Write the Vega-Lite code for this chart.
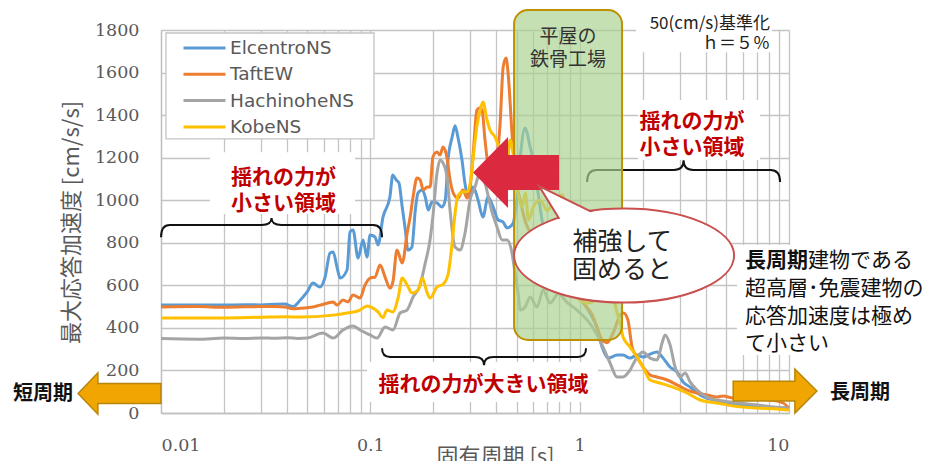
{
  "$schema": "https://vega.github.io/schema/vega-lite/v6.json",
  "width": 628,
  "height": 383,
  "autosize": {"type": "none"},
  "padding": {"left": 161, "top": 30, "right": 141, "bottom": 48},
  "background": "white",
  "config": {"view": {"stroke": null}, "font": "Noto Sans CJK JP"},
  "datasets": {
    "spectra": [
      {"series": "ElcentroNS", "T": 0.01, "a": 507}, {"series": "ElcentroNS", "T": 0.015, "a": 508}, {"series": "ElcentroNS", "T": 0.02, "a": 507}, {"series": "ElcentroNS", "T": 0.025, "a": 509}, {"series": "ElcentroNS", "T": 0.03, "a": 508}, {"series": "ElcentroNS", "T": 0.035, "a": 511}, {"series": "ElcentroNS", "T": 0.039, "a": 512}, {"series": "ElcentroNS", "T": 0.0427, "a": 500}, {"series": "ElcentroNS", "T": 0.0462, "a": 530}, {"series": "ElcentroNS", "T": 0.0499, "a": 569}, {"series": "ElcentroNS", "T": 0.0532, "a": 611}, {"series": "ElcentroNS", "T": 0.0575, "a": 592}, {"series": "ElcentroNS", "T": 0.0608, "a": 639}, {"series": "ElcentroNS", "T": 0.0642, "a": 752}, {"series": "ElcentroNS", "T": 0.0664, "a": 757}, {"series": "ElcentroNS", "T": 0.0693, "a": 686}, {"series": "ElcentroNS", "T": 0.0717, "a": 634}, {"series": "ElcentroNS", "T": 0.0774, "a": 672}, {"series": "ElcentroNS", "T": 0.08, "a": 851}, {"series": "ElcentroNS", "T": 0.0827, "a": 860}, {"series": "ElcentroNS", "T": 0.0874, "a": 728}, {"series": "ElcentroNS", "T": 0.0923, "a": 813}, {"series": "ElcentroNS", "T": 0.0964, "a": 733}, {"series": "ElcentroNS", "T": 0.0997, "a": 836}, {"series": "ElcentroNS", "T": 0.1053, "a": 827}, {"series": "ElcentroNS", "T": 0.1088, "a": 790}, {"series": "ElcentroNS", "T": 0.115, "a": 922}, {"series": "ElcentroNS", "T": 0.124, "a": 1015}, {"series": "ElcentroNS", "T": 0.128, "a": 1118}, {"series": "ElcentroNS", "T": 0.133, "a": 1095}, {"series": "ElcentroNS", "T": 0.137, "a": 1081}, {"series": "ElcentroNS", "T": 0.142, "a": 968}, {"series": "ElcentroNS", "T": 0.147, "a": 860}, {"series": "ElcentroNS", "T": 0.151, "a": 766}, {"series": "ElcentroNS", "T": 0.158, "a": 780}, {"series": "ElcentroNS", "T": 0.164, "a": 954}, {"series": "ElcentroNS", "T": 0.169, "a": 1034}, {"series": "ElcentroNS", "T": 0.177, "a": 1048}, {"series": "ElcentroNS", "T": 0.183, "a": 1015}, {"series": "ElcentroNS", "T": 0.189, "a": 954}, {"series": "ElcentroNS", "T": 0.197, "a": 992}, {"series": "ElcentroNS", "T": 0.208, "a": 987}, {"series": "ElcentroNS", "T": 0.22, "a": 968}, {"series": "ElcentroNS", "T": 0.228, "a": 1001}, {"series": "ElcentroNS", "T": 0.235, "a": 1189}, {"series": "ElcentroNS", "T": 0.246, "a": 1297}, {"series": "ElcentroNS", "T": 0.254, "a": 1350}, {"series": "ElcentroNS", "T": 0.262, "a": 1297}, {"series": "ElcentroNS", "T": 0.274, "a": 1189}, {"series": "ElcentroNS", "T": 0.283, "a": 1081}, {"series": "ElcentroNS", "T": 0.293, "a": 1015}, {"series": "ElcentroNS", "T": 0.31, "a": 1062}, {"series": "ElcentroNS", "T": 0.327, "a": 1001}, {"series": "ElcentroNS", "T": 0.345, "a": 921}, {"series": "ElcentroNS", "T": 0.365, "a": 1015}, {"series": "ElcentroNS", "T": 0.386, "a": 968}, {"series": "ElcentroNS", "T": 0.408, "a": 907}, {"series": "ElcentroNS", "T": 0.43, "a": 898}, {"series": "ElcentroNS", "T": 0.45, "a": 870}, {"series": "ElcentroNS", "T": 0.48, "a": 890}, {"series": "ElcentroNS", "T": 0.5, "a": 1000}, {"series": "ElcentroNS", "T": 0.52, "a": 1200}, {"series": "ElcentroNS", "T": 0.548, "a": 1339}, {"series": "ElcentroNS", "T": 0.58, "a": 1250}, {"series": "ElcentroNS", "T": 0.6, "a": 1189}, {"series": "ElcentroNS", "T": 0.633, "a": 1034}, {"series": "ElcentroNS", "T": 0.661, "a": 907}, {"series": "ElcentroNS", "T": 0.699, "a": 799}, {"series": "ElcentroNS", "T": 0.74, "a": 750}, {"series": "ElcentroNS", "T": 0.79, "a": 720}, {"series": "ElcentroNS", "T": 0.85, "a": 650}, {"series": "ElcentroNS", "T": 0.9, "a": 620}, {"series": "ElcentroNS", "T": 0.97, "a": 570}, {"series": "ElcentroNS", "T": 1.04, "a": 520}, {"series": "ElcentroNS", "T": 1.12, "a": 470}, {"series": "ElcentroNS", "T": 1.21, "a": 400}, {"series": "ElcentroNS", "T": 1.28, "a": 310}, {"series": "ElcentroNS", "T": 1.37, "a": 258}, {"series": "ElcentroNS", "T": 1.51, "a": 272}, {"series": "ElcentroNS", "T": 1.61, "a": 272}, {"series": "ElcentroNS", "T": 1.74, "a": 258}, {"series": "ElcentroNS", "T": 1.88, "a": 272}, {"series": "ElcentroNS", "T": 2.01, "a": 263}, {"series": "ElcentroNS", "T": 2.17, "a": 277}, {"series": "ElcentroNS", "T": 2.34, "a": 287}, {"series": "ElcentroNS", "T": 2.48, "a": 263}, {"series": "ElcentroNS", "T": 2.7, "a": 216}, {"series": "ElcentroNS", "T": 2.92, "a": 193}, {"series": "ElcentroNS", "T": 3.12, "a": 146}, {"series": "ElcentroNS", "T": 3.37, "a": 122}, {"series": "ElcentroNS", "T": 3.76, "a": 85}, {"series": "ElcentroNS", "T": 4.34, "a": 61}, {"series": "ElcentroNS", "T": 5.23, "a": 47}, {"series": "ElcentroNS", "T": 6.31, "a": 33}, {"series": "ElcentroNS", "T": 7.52, "a": 28}, {"series": "ElcentroNS", "T": 9.37, "a": 23}, {"series": "ElcentroNS", "T": 10, "a": 22},

      {"series": "TaftEW", "T": 0.01, "a": 498}, {"series": "TaftEW", "T": 0.015, "a": 500}, {"series": "TaftEW", "T": 0.02, "a": 497}, {"series": "TaftEW", "T": 0.025, "a": 499}, {"series": "TaftEW", "T": 0.03, "a": 500}, {"series": "TaftEW", "T": 0.035, "a": 500}, {"series": "TaftEW", "T": 0.039, "a": 498}, {"series": "TaftEW", "T": 0.0427, "a": 490}, {"series": "TaftEW", "T": 0.0499, "a": 495}, {"series": "TaftEW", "T": 0.0532, "a": 498}, {"series": "TaftEW", "T": 0.0575, "a": 507}, {"series": "TaftEW", "T": 0.0621, "a": 516}, {"series": "TaftEW", "T": 0.0664, "a": 522}, {"series": "TaftEW", "T": 0.0693, "a": 507}, {"series": "TaftEW", "T": 0.074, "a": 531}, {"series": "TaftEW", "T": 0.0782, "a": 522}, {"series": "TaftEW", "T": 0.0827, "a": 555}, {"series": "TaftEW", "T": 0.0893, "a": 540}, {"series": "TaftEW", "T": 0.0943, "a": 601}, {"series": "TaftEW", "T": 0.0997, "a": 634}, {"series": "TaftEW", "T": 0.1053, "a": 639}, {"series": "TaftEW", "T": 0.1113, "a": 695}, {"series": "TaftEW", "T": 0.1176, "a": 639}, {"series": "TaftEW", "T": 0.1242, "a": 587}, {"series": "TaftEW", "T": 0.1284, "a": 620}, {"series": "TaftEW", "T": 0.134, "a": 766}, {"series": "TaftEW", "T": 0.142, "a": 705}, {"series": "TaftEW", "T": 0.15, "a": 846}, {"series": "TaftEW", "T": 0.155, "a": 922}, {"series": "TaftEW", "T": 0.16, "a": 1015}, {"series": "TaftEW", "T": 0.167, "a": 1104}, {"series": "TaftEW", "T": 0.173, "a": 1095}, {"series": "TaftEW", "T": 0.179, "a": 1048}, {"series": "TaftEW", "T": 0.187, "a": 1062}, {"series": "TaftEW", "T": 0.193, "a": 1062}, {"series": "TaftEW", "T": 0.199, "a": 1203}, {"series": "TaftEW", "T": 0.208, "a": 1227}, {"series": "TaftEW", "T": 0.215, "a": 1212}, {"series": "TaftEW", "T": 0.2225, "a": 1250}, {"series": "TaftEW", "T": 0.2325, "a": 1198}, {"series": "TaftEW", "T": 0.24, "a": 1100}, {"series": "TaftEW", "T": 0.25, "a": 1030}, {"series": "TaftEW", "T": 0.262, "a": 1010}, {"series": "TaftEW", "T": 0.277, "a": 1048}, {"series": "TaftEW", "T": 0.29, "a": 1010}, {"series": "TaftEW", "T": 0.3, "a": 1062}, {"series": "TaftEW", "T": 0.31, "a": 1220}, {"series": "TaftEW", "T": 0.323, "a": 1424}, {"series": "TaftEW", "T": 0.334, "a": 1435}, {"series": "TaftEW", "T": 0.342, "a": 1424}, {"series": "TaftEW", "T": 0.353, "a": 1283}, {"series": "TaftEW", "T": 0.373, "a": 1128}, {"series": "TaftEW", "T": 0.394, "a": 1156}, {"series": "TaftEW", "T": 0.417, "a": 1363}, {"series": "TaftEW", "T": 0.431, "a": 1626}, {"series": "TaftEW", "T": 0.445, "a": 1668}, {"series": "TaftEW", "T": 0.455, "a": 1598}, {"series": "TaftEW", "T": 0.475, "a": 1316}, {"series": "TaftEW", "T": 0.491, "a": 1128}, {"series": "TaftEW", "T": 0.52, "a": 1000}, {"series": "TaftEW", "T": 0.55, "a": 900}, {"series": "TaftEW", "T": 0.6, "a": 820}, {"series": "TaftEW", "T": 0.65, "a": 720}, {"series": "TaftEW", "T": 0.7, "a": 760}, {"series": "TaftEW", "T": 0.78, "a": 650}, {"series": "TaftEW", "T": 0.85, "a": 620}, {"series": "TaftEW", "T": 0.93, "a": 592}, {"series": "TaftEW", "T": 1.04, "a": 517}, {"series": "TaftEW", "T": 1.15, "a": 460}, {"series": "TaftEW", "T": 1.21, "a": 404}, {"series": "TaftEW", "T": 1.28, "a": 343}, {"series": "TaftEW", "T": 1.35, "a": 330}, {"series": "TaftEW", "T": 1.45, "a": 380}, {"series": "TaftEW", "T": 1.56, "a": 460}, {"series": "TaftEW", "T": 1.62, "a": 470}, {"series": "TaftEW", "T": 1.7, "a": 437}, {"series": "TaftEW", "T": 1.78, "a": 310}, {"series": "TaftEW", "T": 1.88, "a": 263}, {"series": "TaftEW", "T": 2.01, "a": 216}, {"series": "TaftEW", "T": 2.17, "a": 179}, {"series": "TaftEW", "T": 2.34, "a": 169}, {"series": "TaftEW", "T": 2.62, "a": 155}, {"series": "TaftEW", "T": 2.92, "a": 132}, {"series": "TaftEW", "T": 3.26, "a": 108}, {"series": "TaftEW", "T": 3.64, "a": 94}, {"series": "TaftEW", "T": 4.06, "a": 85}, {"series": "TaftEW", "T": 4.53, "a": 75}, {"series": "TaftEW", "T": 4.84, "a": 80}, {"series": "TaftEW", "T": 5.41, "a": 70}, {"series": "TaftEW", "T": 6.04, "a": 75}, {"series": "TaftEW", "T": 7.04, "a": 66}, {"series": "TaftEW", "T": 8.12, "a": 61}, {"series": "TaftEW", "T": 9.37, "a": 47}, {"series": "TaftEW", "T": 10, "a": 23},

      {"series": "HachinoheNS", "T": 0.01, "a": 350}, {"series": "HachinoheNS", "T": 0.015, "a": 347}, {"series": "HachinoheNS", "T": 0.02, "a": 352}, {"series": "HachinoheNS", "T": 0.025, "a": 350}, {"series": "HachinoheNS", "T": 0.03, "a": 353}, {"series": "HachinoheNS", "T": 0.035, "a": 351}, {"series": "HachinoheNS", "T": 0.04, "a": 354}, {"series": "HachinoheNS", "T": 0.045, "a": 350}, {"series": "HachinoheNS", "T": 0.0499, "a": 352}, {"series": "HachinoheNS", "T": 0.0594, "a": 376}, {"series": "HachinoheNS", "T": 0.0664, "a": 352}, {"series": "HachinoheNS", "T": 0.074, "a": 390}, {"series": "HachinoheNS", "T": 0.0827, "a": 409}, {"series": "HachinoheNS", "T": 0.0893, "a": 390}, {"series": "HachinoheNS", "T": 0.0997, "a": 367}, {"series": "HachinoheNS", "T": 0.1076, "a": 352}, {"series": "HachinoheNS", "T": 0.1176, "a": 404}, {"series": "HachinoheNS", "T": 0.1284, "a": 390}, {"series": "HachinoheNS", "T": 0.1387, "a": 470}, {"series": "HachinoheNS", "T": 0.1497, "a": 484}, {"series": "HachinoheNS", "T": 0.16, "a": 545}, {"series": "HachinoheNS", "T": 0.1727, "a": 600}, {"series": "HachinoheNS", "T": 0.1825, "a": 700}, {"series": "HachinoheNS", "T": 0.1928, "a": 813}, {"series": "HachinoheNS", "T": 0.1993, "a": 930}, {"series": "HachinoheNS", "T": 0.2083, "a": 1128}, {"series": "HachinoheNS", "T": 0.2153, "a": 1189}, {"series": "HachinoheNS", "T": 0.2225, "a": 1175}, {"series": "HachinoheNS", "T": 0.2325, "a": 1109}, {"series": "HachinoheNS", "T": 0.2403, "a": 954}, {"series": "HachinoheNS", "T": 0.2539, "a": 780}, {"series": "HachinoheNS", "T": 0.2683, "a": 766}, {"series": "HachinoheNS", "T": 0.2834, "a": 846}, {"series": "HachinoheNS", "T": 0.2995, "a": 1001}, {"series": "HachinoheNS", "T": 0.3164, "a": 1062}, {"series": "HachinoheNS", "T": 0.334, "a": 1128}, {"series": "HachinoheNS", "T": 0.353, "a": 1080}, {"series": "HachinoheNS", "T": 0.38, "a": 950}, {"series": "HachinoheNS", "T": 0.403, "a": 874}, {"series": "HachinoheNS", "T": 0.426, "a": 813}, {"series": "HachinoheNS", "T": 0.45, "a": 813}, {"series": "HachinoheNS", "T": 0.475, "a": 752}, {"series": "HachinoheNS", "T": 0.491, "a": 658}, {"series": "HachinoheNS", "T": 0.508, "a": 564}, {"series": "HachinoheNS", "T": 0.52, "a": 484}, {"series": "HachinoheNS", "T": 0.55, "a": 500}, {"series": "HachinoheNS", "T": 0.58, "a": 545}, {"series": "HachinoheNS", "T": 0.626, "a": 498}, {"series": "HachinoheNS", "T": 0.669, "a": 578}, {"series": "HachinoheNS", "T": 0.722, "a": 517}, {"series": "HachinoheNS", "T": 0.79, "a": 560}, {"series": "HachinoheNS", "T": 0.87, "a": 520}, {"series": "HachinoheNS", "T": 0.97, "a": 484}, {"series": "HachinoheNS", "T": 1.121, "a": 420}, {"series": "HachinoheNS", "T": 1.211, "a": 367}, {"series": "HachinoheNS", "T": 1.294, "a": 310}, {"series": "HachinoheNS", "T": 1.397, "a": 235}, {"series": "HachinoheNS", "T": 1.509, "a": 169}, {"series": "HachinoheNS", "T": 1.612, "a": 169}, {"series": "HachinoheNS", "T": 1.741, "a": 202}, {"series": "HachinoheNS", "T": 1.881, "a": 263}, {"series": "HachinoheNS", "T": 2.009, "a": 287}, {"series": "HachinoheNS", "T": 2.17, "a": 258}, {"series": "HachinoheNS", "T": 2.344, "a": 249}, {"series": "HachinoheNS", "T": 2.476, "a": 329}, {"series": "HachinoheNS", "T": 2.559, "a": 367}, {"series": "HachinoheNS", "T": 2.703, "a": 320}, {"series": "HachinoheNS", "T": 2.856, "a": 216}, {"series": "HachinoheNS", "T": 3.018, "a": 169}, {"series": "HachinoheNS", "T": 3.189, "a": 188}, {"series": "HachinoheNS", "T": 3.369, "a": 146}, {"series": "HachinoheNS", "T": 3.639, "a": 108}, {"series": "HachinoheNS", "T": 4.062, "a": 75}, {"series": "HachinoheNS", "T": 4.844, "a": 56}, {"series": "HachinoheNS", "T": 5.84, "a": 47}, {"series": "HachinoheNS", "T": 7.04, "a": 38}, {"series": "HachinoheNS", "T": 8.39, "a": 28}, {"series": "HachinoheNS", "T": 10, "a": 23},

      {"series": "KobeNS", "T": 0.01, "a": 446}, {"series": "KobeNS", "T": 0.015, "a": 447}, {"series": "KobeNS", "T": 0.02, "a": 447}, {"series": "KobeNS", "T": 0.03, "a": 450}, {"series": "KobeNS", "T": 0.04, "a": 452}, {"series": "KobeNS", "T": 0.0462, "a": 451}, {"series": "KobeNS", "T": 0.0664, "a": 460}, {"series": "KobeNS", "T": 0.0774, "a": 470}, {"series": "KobeNS", "T": 0.0893, "a": 484}, {"series": "KobeNS", "T": 0.0964, "a": 503}, {"series": "KobeNS", "T": 0.103, "a": 493}, {"series": "KobeNS", "T": 0.1088, "a": 475}, {"series": "KobeNS", "T": 0.115, "a": 448}, {"series": "KobeNS", "T": 0.12, "a": 484}, {"series": "KobeNS", "T": 0.128, "a": 475}, {"series": "KobeNS", "T": 0.136, "a": 545}, {"series": "KobeNS", "T": 0.142, "a": 634}, {"series": "KobeNS", "T": 0.15, "a": 601}, {"series": "KobeNS", "T": 0.158, "a": 564}, {"series": "KobeNS", "T": 0.169, "a": 578}, {"series": "KobeNS", "T": 0.177, "a": 634}, {"series": "KobeNS", "T": 0.187, "a": 564}, {"series": "KobeNS", "T": 0.193, "a": 540}, {"series": "KobeNS", "T": 0.208, "a": 592}, {"series": "KobeNS", "T": 0.2225, "a": 605}, {"series": "KobeNS", "T": 0.235, "a": 650}, {"series": "KobeNS", "T": 0.246, "a": 800}, {"series": "KobeNS", "T": 0.254, "a": 940}, {"series": "KobeNS", "T": 0.262, "a": 1020}, {"series": "KobeNS", "T": 0.277, "a": 1040}, {"series": "KobeNS", "T": 0.29, "a": 1040}, {"series": "KobeNS", "T": 0.3, "a": 1080}, {"series": "KobeNS", "T": 0.31, "a": 1200}, {"series": "KobeNS", "T": 0.323, "a": 1350}, {"series": "KobeNS", "T": 0.336, "a": 1430}, {"series": "KobeNS", "T": 0.345, "a": 1462}, {"series": "KobeNS", "T": 0.361, "a": 1377}, {"series": "KobeNS", "T": 0.373, "a": 1330}, {"series": "KobeNS", "T": 0.394, "a": 1297}, {"series": "KobeNS", "T": 0.417, "a": 1222}, {"series": "KobeNS", "T": 0.431, "a": 1128}, {"series": "KobeNS", "T": 0.45, "a": 1156}, {"series": "KobeNS", "T": 0.465, "a": 1283}, {"series": "KobeNS", "T": 0.481, "a": 1222}, {"series": "KobeNS", "T": 0.502, "a": 1062}, {"series": "KobeNS", "T": 0.531, "a": 968}, {"series": "KobeNS", "T": 0.55, "a": 1034}, {"series": "KobeNS", "T": 0.57, "a": 907}, {"series": "KobeNS", "T": 0.6, "a": 968}, {"series": "KobeNS", "T": 0.65, "a": 1000}, {"series": "KobeNS", "T": 0.7, "a": 950}, {"series": "KobeNS", "T": 0.75, "a": 1000}, {"series": "KobeNS", "T": 0.83, "a": 1024}, {"series": "KobeNS", "T": 0.87, "a": 686}, {"series": "KobeNS", "T": 0.97, "a": 545}, {"series": "KobeNS", "T": 1.08, "a": 517}, {"series": "KobeNS", "T": 1.25, "a": 545}, {"series": "KobeNS", "T": 1.4, "a": 600}, {"series": "KobeNS", "T": 1.5, "a": 480}, {"series": "KobeNS", "T": 1.56, "a": 420}, {"series": "KobeNS", "T": 1.612, "a": 357}, {"series": "KobeNS", "T": 1.741, "a": 310}, {"series": "KobeNS", "T": 1.881, "a": 263}, {"series": "KobeNS", "T": 2.009, "a": 216}, {"series": "KobeNS", "T": 2.17, "a": 155}, {"series": "KobeNS", "T": 2.42, "a": 141}, {"series": "KobeNS", "T": 2.79, "a": 122}, {"series": "KobeNS", "T": 3.26, "a": 94}, {"series": "KobeNS", "T": 3.76, "a": 61}, {"series": "KobeNS", "T": 4.53, "a": 47}, {"series": "KobeNS", "T": 5.41, "a": 33}, {"series": "KobeNS", "T": 7.04, "a": 23}, {"series": "KobeNS", "T": 8.77, "a": 19}, {"series": "KobeNS", "T": 10, "a": 14}
    ]
  },
  "encoding": {
    "x": {
      "field": "T",
      "type": "quantitative",
      "scale": {"type": "log", "domain": [0.01, 10]},
      "axis": {
        "values": [0.01, 0.02, 0.03, 0.04, 0.05, 0.06, 0.07, 0.08, 0.09, 0.1, 0.2, 0.3, 0.4, 0.5, 0.6, 0.7, 0.8, 0.9, 1, 2, 3, 4, 5, 6, 7, 8, 9, 10],
        "format": "~g",
        "labelExpr": "datum.value === 0.01 || datum.value === 0.1 || datum.value === 1 || datum.value === 10 ? datum.label : ''",
        "labelOverlap": false,
        "grid": true,
        "gridColor": "#c4c4c4",
        "gridWidth": 1.3,
        "ticks": false,
        "tickSize": 0,
        "domainColor": "#bfbfbf",
        "domainWidth": 1.3,
        "labelFont": "DejaVu Serif",
        "labelFontSize": 17.5,
        "labelColor": "#595959",
        "labelPadding": 23,
        "title": "固有周期 [s]",
        "titleFont": "Noto Sans CJK JP",
        "titleFontSize": 22,
        "titleFontWeight": "normal",
        "titleColor": "#595959",
        "titleX": 334,
        "titleY": 33,
        "titleBaseline": "top",
        "titleAlign": "center"
      }
    },
    "y": {
      "field": "a",
      "type": "quantitative",
      "scale": {"domain": [0, 1800], "nice": false},
      "axis": {
        "values": [0, 200, 400, 600, 800, 1000, 1200, 1400, 1600, 1800],
        "format": "d",
        "grid": true,
        "gridColor": "#c4c4c4",
        "gridWidth": 1.3,
        "ticks": false,
        "tickSize": 0,
        "domainColor": "#bfbfbf",
        "domainWidth": 1.3,
        "labelFont": "DejaVu Serif",
        "labelFontSize": 17.5,
        "labelColor": "#595959",
        "labelPadding": 22,
        "title": "最大応答加速度 [cm/s/s]",
        "titleFont": "Noto Sans CJK JP",
        "titleFontSize": 22,
        "titleFontWeight": "normal",
        "titleColor": "#595959",
        "titleAngle": -90,
        "titleX": -90,
        "titleY": 192,
        "titleAlign": "center",
        "titleBaseline": "middle"
      }
    }
  },
  "layer": [
    {
      "data": {"values": [
        {"T": 0.01714, "T2": 0.0845, "a": 1226, "a2": 935},
        {"T": 1.901, "T2": 7.277, "a": 1471, "a2": 1189},
        {"T": 0.0964, "T2": 1.224, "a": 240, "a2": 52},
        {"T": 1.86, "T2": 8.306, "a": 1903, "a2": 1696},
        {"T": 5.649, "T2": 12, "a": 790, "a2": 273}
      ]},
      "mark": {"type": "rect", "fill": "white", "strokeWidth": 0},
      "encoding": {"x2": {"field": "T2"}, "y2": {"field": "a2"}}
    },
    {
      "data": {"values": [{"T": 0.01056, "T2": 0.1041, "a": 1786, "a2": 1288}]},
      "mark": {"type": "rect", "fill": "white", "stroke": "#c4c4c4", "strokeWidth": 1.3},
      "encoding": {"x2": {"field": "T2"}, "y2": {"field": "a2"}}
    },
    {
      "data": {"name": "spectra"},
      "mark": {"type": "line", "strokeWidth": 3, "interpolate": "monotone"},
      "encoding": {
        "color": {
          "field": "series",
          "type": "nominal",
          "scale": {
            "domain": ["ElcentroNS", "TaftEW", "HachinoheNS", "KobeNS"],
            "range": ["#5b9bd5", "#ed7d31", "#a5a5a5", "#ffc000"]
          },
          "legend": {
            "title": null,
            "orient": "none",
            "legendX": 21,
            "legendY": 7,
            "padding": 0,
            "symbolType": "stroke",
            "symbolSize": 1764,
            "symbolStrokeWidth": 3,
            "clipHeight": 22,
            "labelFont": "DejaVu Sans",
            "labelFontSize": 18.5,
            "labelColor": "#595959",
            "labelOffset": 3,
            "rowPadding": 4.3
          }
        }
      }
    },
    {
      "data": {"values": [{"T": 0.03373, "a": 883.5}]},
      "mark": {"type": "point", "shape": "M -1 0.11 Q -1 0 -0.92 0 L -0.09 0 Q 0 0 0 -0.063 Q 0 0 0.09 0 L 0.92 0 Q 1 0 1 0.11", "size": 48841, "filled": false, "stroke": "#111111", "strokeWidth": 2, "opacity": 1}
    },
    {
      "data": {"values": [{"T": 0.3493, "a": 263}]},
      "mark": {"type": "point", "shape": "M -1 -0.085 Q -1 0 -0.92 0 L -0.09 0 Q 0 0 0 0.08 Q 0 0 0.09 0 L 0.92 0 Q 1 0 1 -0.085", "size": 41616, "filled": false, "stroke": "#111111", "strokeWidth": 2, "opacity": 1}
    },
    {
      "data": {"values": [{"T": 3.136, "a": 1142}]},
      "mark": {"type": "point", "shape": "M -1 0.125 Q -1 0 -0.9 0 L -0.1 0 Q 0 0 0 -0.1 Q 0 0 0.1 0 L 0.9 0 Q 1 0 1 0.125", "size": 37249, "filled": false, "stroke": "#111111", "strokeWidth": 2, "opacity": 1}
    },
    {
      "data": {"values": [{"T": 0.486, "T2": 1.594, "a": 1894, "a2": 343}]},
      "mark": {"type": "rect", "fill": "#a9d18e", "fillOpacity": 0.68, "stroke": "#bf9000", "strokeWidth": 2, "cornerRadius": 14},
      "encoding": {"x2": {"field": "T2"}, "y2": {"field": "a2"}}
    },
    {
      "data": {"values": [{"T": 0.88, "a": 1776, "label": "平屋の\n鉄骨工場"}]},
      "mark": {"type": "text", "font": "Noto Sans CJK JP", "fontSize": 19, "lineHeight": 23, "lineBreak": "\n", "align": "center", "baseline": "middle", "dy": 2, "color": "#333333"},
      "encoding": {"text": {"field": "label"}}
    },
    {
      "data": {"values": [{"T": 0.4966, "a": 1130}]},
      "mark": {"type": "point", "shape": "M -0.86 0 L -0.16 -0.71 L -0.16 -0.35 L 0.86 -0.35 L 0.86 0.35 L -0.16 0.35 L -0.16 0.71 Z", "size": 10000, "filled": true, "fill": "#db2a40", "strokeWidth": 0, "opacity": 1}
    },
    {
      "data": {"values": [{"T": 1.63, "a": 740}]},
      "mark": {"type": "point", "shape": "M 1.1 0 C 1.1 0.2596 0.6075 0.47 0 0.47 C -0.6075 0.47 -1.1 0.2596 -1.1 0 C -1.1 -0.2596 -0.6075 -0.47 0 -0.47 C 0.6075 -0.47 1.1 -0.2596 1.1 0 Z", "size": 40000, "filled": true, "fill": "white", "stroke": "#c9504f", "strokeWidth": 2, "opacity": 1}
    },
    {
      "data": {"values": [{"T": 1.63, "a": 740}]},
      "mark": {"type": "point", "shape": "M -0.603 -0.292 L -0.85 -0.695 L -0.187 -0.37 Z", "size": 40000, "filled": true, "fill": "white", "stroke": "#c9504f", "strokeWidth": 2, "strokeJoin": "miter", "opacity": 1}
    },
    {
      "data": {"values": [{"T": 1.63, "a": 740}]},
      "mark": {"type": "point", "shape": "M 1.085 0 C 1.085 0.2513 0.5992 0.455 0 0.455 C -0.5992 0.455 -1.085 0.2513 -1.085 0 C -1.085 -0.2513 -0.5992 -0.455 0 -0.455 C 0.5992 -0.455 1.085 -0.2513 1.085 0 Z", "size": 40000, "filled": true, "fill": "white", "strokeWidth": 0, "opacity": 1}
    },
    {
      "data": {"values": [{"T": 1.595, "a": 813, "label": "補強して\n固めると"}]},
      "mark": {"type": "text", "font": "Noto Sans CJK JP", "fontSize": 25, "lineHeight": 28, "lineBreak": "\n", "align": "center", "baseline": "middle", "dy": 2, "color": "#222222"},
      "encoding": {"text": {"field": "label"}}
    },
    {
      "data": {"values": [
        {"T": 0.0385, "a": 1114, "label": "揺れの力が\n小さい領域"},
        {"T": 3.443, "a": 1377, "label": "揺れの力が\n小さい領域"},
        {"T": 0.3474, "a": 141, "label": "揺れの力が大きい領域"}
      ]},
      "mark": {"type": "text", "font": "Noto Sans CJK JP", "fontSize": 21, "fontWeight": "bold", "lineHeight": 26, "lineBreak": "\n", "align": "center", "baseline": "middle", "dy": 2, "color": "#c00000"},
      "encoding": {"text": {"field": "label"}}
    },
    {
      "data": {"values": [{"T": 8.121, "a": 1837, "label": "50(cm/s)基準化\nｈ＝５％"}]},
      "mark": {"type": "text", "font": "Noto Sans CJK JP", "fontSize": 17, "lineHeight": 20, "lineBreak": "\n", "align": "right", "baseline": "middle", "dy": 2, "color": "#222222"},
      "encoding": {"text": {"field": "label"}}
    },
    {
      "data": {"values": [{"T": 6.166, "a": 719, "label": "長周期"}]},
      "mark": {"type": "text", "font": "Noto Sans CJK JP", "fontSize": 21, "fontWeight": "bold", "align": "left", "baseline": "middle", "dy": 1, "color": "#111111"},
      "encoding": {"text": {"field": "label"}}
    },
    {
      "data": {"values": [
        {"T": 12.34, "a": 719, "label": "建物である"},
        {"T": 6.166, "a": 587.4, "label": "超高層･免震建物の\n応答加速度は極め\nて小さい"}
      ]},
      "mark": {"type": "text", "font": "Noto Sans CJK JP", "fontSize": 21, "lineHeight": 27.5, "lineBreak": "\n", "align": "left", "baseline": "middle", "dy": 1, "color": "#111111"},
      "encoding": {"text": {"field": "label"}}
    },
    {
      "data": {"values": [{"T": 0.006334, "a": 91.6}]},
      "mark": {"type": "point", "shape": "M -0.92 0 L -0.48 -0.46 L -0.48 -0.22 L 0.92 -0.22 L 0.92 0.22 L -0.48 0.22 L -0.48 0.46 Z", "size": 8100, "filled": true, "fill": "#f0a500", "stroke": "#b8860b", "strokeWidth": 1.5, "opacity": 1}
    },
    {
      "data": {"values": [{"T": 8.58, "a": 103}]},
      "mark": {"type": "point", "shape": "M 0.93 0 L 0.44 -0.49 L 0.44 -0.22 L -0.93 -0.22 L -0.93 0.22 L 0.44 0.22 L 0.44 0.49 Z", "size": 8100, "filled": true, "fill": "#f0a500", "stroke": "#b8860b", "strokeWidth": 1.5, "opacity": 1}
    },
    {
      "data": {"values": [{"T": 0.003797, "a": 94, "label": "短周期"}]},
      "mark": {"type": "text", "font": "Noto Sans CJK JP", "fontSize": 20, "fontWeight": "bold", "align": "right", "baseline": "middle", "dy": 1, "color": "#111111"},
      "encoding": {"text": {"field": "label"}}
    },
    {
      "data": {"values": [{"T": 15.72, "a": 98.7, "label": "長周期"}]},
      "mark": {"type": "text", "font": "Noto Sans CJK JP", "fontSize": 20, "fontWeight": "bold", "align": "left", "baseline": "middle", "dy": 1, "color": "#111111"},
      "encoding": {"text": {"field": "label"}}
    }
  ]
}
